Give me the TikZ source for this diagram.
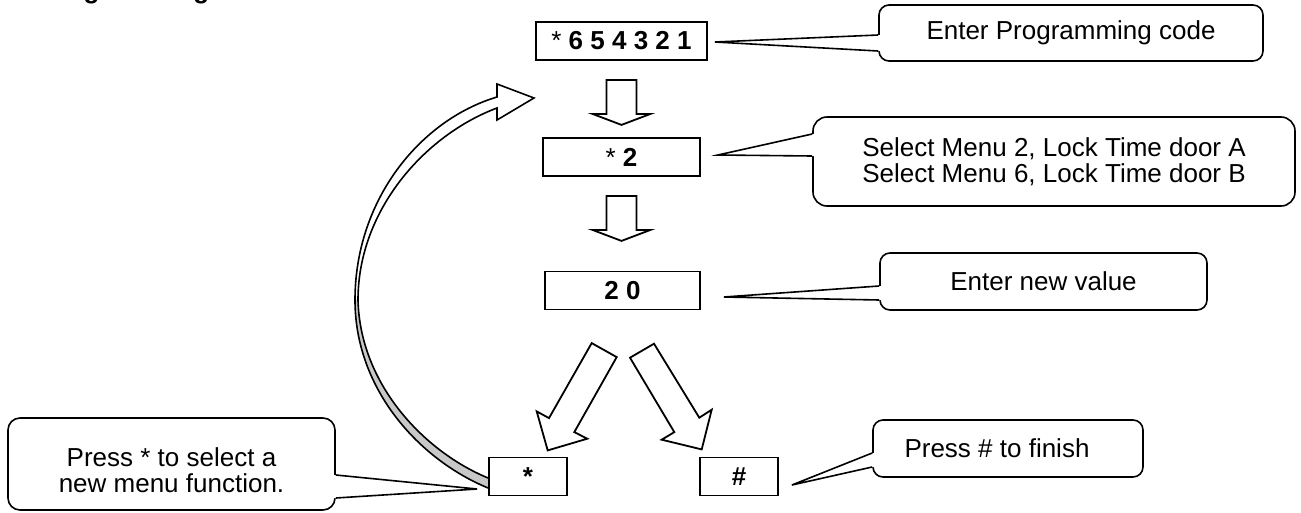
\documentclass[tikz,border=0pt]{standalone}
\usepackage{fontspec}
\setmainfont{Liberation Sans}
\usetikzlibrary{calc,backgrounds}
\definecolor{band}{RGB}{200,200,200}
\begin{document}
\begin{tikzpicture}[x=1pt,y=-1pt,
  keybox/.style={draw=black, line width=1.8pt, fill=white, minimum width=#1, minimum height=38pt, inner sep=0pt, font=\fontsize{26pt}{26.5pt}\selectfont\bfseries},
  callout/.style={draw=black, line width=1.6pt, fill=white, rounded corners=10pt, inner sep=0pt, align=center, font=\fontsize{26pt}{26.5pt}\selectfont},
  blockarrow/.style={draw=black, line width=1.8pt, fill=white, line join=miter},
  ptrline/.style={draw=black, line width=1.6pt, line join=miter},
  pics/downarrow/.style={code={\draw[blockarrow] (-15,19) -- (15,19) -- (15,53) -- (29,53) -- (0,64) -- (-29,53) -- (-15,53) -- cycle;}}
]
\useasboundingbox (0,0) rectangle (1301,512);

% title, cut off by the top edge (only the descenders show)
\begin{scope}
  \clip (0,0) rectangle (1301,512);
  \node[anchor=base west, inner sep=0pt, font=\fontsize{26pt}{26.5pt}\selectfont\bfseries] (title) at (40,-1.5) {Programming};
\end{scope}

% key boxes
\node[keybox=171pt] (b1) at (621.5,41) {\textmd{*} 6 5 4 3 2 1};
\node[keybox=157pt] (b2) at (621.5,157) {\textmd{*} 2};
\node[keybox=155pt] (b3) at (622.5,290.5) {2 0};
\node[keybox=78pt] (bs) at (528,476.5) {*};
\node[keybox=78pt] (bh) at (739,476.5) {\#};

% block arrows
\pic at (b1.south) {downarrow};
\pic at (b2.south) {downarrow};
\begin{scope}[shift={(b3.south)}]
  \draw[blockarrow] (-30.8,32.7) -- (-73.5,107.7) -- (-85.8,101) -- (-74.8,140) -- (-35.2,128.3) -- (-48.2,121.7) -- (-5.8,46.7) -- cycle;
  \draw[blockarrow] (7.5,47.3) -- (31.5,33.3) -- (76.8,107.3) -- (89.2,99.3) -- (79.2,139) -- (39.2,129.3) -- (51.8,121.7) -- cycle;
\end{scope}

% callouts
\node[callout, minimum width=384pt, minimum height=56pt] (c1) at (1071,33) {Enter Programming code};
\node[callout, rounded corners=14pt, minimum width=482pt, minimum height=89pt] (c2) at (1054,161.5) {Select Menu 2, Lock Time door A\\Select Menu 6, Lock Time door B};
\node[callout, minimum width=327pt, minimum height=57pt] (c3) at (1043.5,281.5) {Enter new value};
\node[callout, minimum width=270pt, minimum height=57pt] (c4) at (1008,448.5) {Press \# to finish\hspace*{22pt}};
\node[callout, rounded corners=12pt, minimum width=327pt, minimum height=92pt] (c5) at (171.5,464) {\rule{0pt}{31pt}Press * to select a\\new menu function.};

% pointers
\coordinate (t1) at ($(b1.east)+(7,1)$);
\coordinate (a1) at ($(c1.west)+(0,2)$);
\coordinate (e1) at ($(c1.west)+(0,18)$);
\fill[white] (t1) -- (a1) -- ($(a1)+(3,0)$) -- ($(e1)+(3,0)$) -- (e1) -- cycle;
\draw[ptrline] (a1) -- (t1) -- (e1);

\coordinate (t2) at ($(b2.east)+(17,-2)$);
\coordinate (a2) at ($(c2.west)+(0,-27.5)$);
\coordinate (e2) at ($(c2.west)+(0,-5.5)$);
\fill[white] (t2) -- (a2) -- ($(a2)+(3,0)$) -- ($(e2)+(3,0)$) -- (e2) -- cycle;
\draw[ptrline] (a2) -- (t2) -- (e2);

\coordinate (t3) at ($(b3.east)+(23,6.5)$);
\coordinate (a3) at ($(c3.west)+(0,4.5)$);
\coordinate (e3) at ($(c3.west)+(0,18.5)$);
\fill[white] (t3) -- (a3) -- ($(a3)+(3,0)$) -- ($(e3)+(3,0)$) -- (e3) -- cycle;
\draw[ptrline] (a3) -- (t3) -- (e3);

\coordinate (t4) at ($(bh.east)+(13,8.5)$);
\coordinate (a4) at ($(c4.west)+(0,4.5)$);
\coordinate (e4) at ($(c4.west)+(0,18.5)$);
\fill[white] (t4) -- (a4) -- ($(a4)+(3,0)$) -- ($(e4)+(3,0)$) -- (e4) -- cycle;
\draw[ptrline] (a4) -- (t4) -- (e4);

\coordinate (t5) at ($(bs.west)+(-11,12.5)$);
\coordinate (a5) at ($(c5.east)+(0,11)$);
\coordinate (e5) at ($(c5.east)+(0,34)$);
\fill[white] (t5) -- (a5) -- ($(a5)+(-3,0)$) -- ($(e5)+(-3,0)$) -- (e5) -- cycle;
\draw[ptrline] (a5) -- (t5) -- (e5);

% curved return arrow
\coordinate (lo) at ($(bs.west)+(0,11.5)$);
\coordinate (li) at ($(bs.west)+(0,1.5)$);
\coordinate (loopend) at (534,98);
\begin{pgfonlayer}{background}
  \fill[white] (lo) .. controls (420,460) and (355,390) .. (355,300) .. controls (355,200) and (420,120) .. (497,97) -- (497,84) -- (loopend) -- (497,120) -- (497,108) .. controls (425,135) and (358,210) .. (358,300) .. controls (360,385) and (425,452) .. (li) -- cycle;
  \fill[band] (lo) .. controls (420,460) and (355,390) .. (355,300) -- (358,300) .. controls (360,385) and (425,452) .. (li) -- cycle;
  \draw[line width=1.6pt, line join=miter] (lo) .. controls (420,460) and (355,390) .. (355,300) .. controls (355,200) and (420,120) .. (497,97) -- (497,84) -- (loopend) -- (497,120) -- (497,108) .. controls (425,135) and (358,210) .. (358,300) .. controls (360,385) and (425,452) .. (li);
\end{pgfonlayer}
\end{tikzpicture}
\end{document}
